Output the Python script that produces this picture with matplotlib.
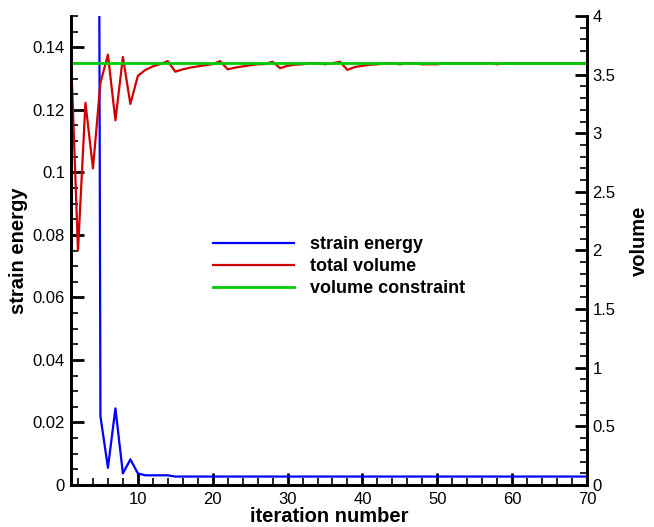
import numpy as np
import matplotlib
matplotlib.use("Agg")
import matplotlib.pyplot as plt
from matplotlib.ticker import MultipleLocator

plt.rcParams['font.family'] = ['Liberation Sans', 'DejaVu Sans']

# номера итераций
iterations = list(range(1, 71))

# энергия деформации (левая ось)
strain_energy = [2.5, 1.8, 1.2, 0.9, 0.022, 0.0055, 0.0245, 0.0037, 0.0082, 0.0037,
                 0.0031, 0.0031, 0.0031, 0.0031] + [0.0027] * 56

# общий объём (правая ось)
total_volume = [3.78, 2.00, 3.26, 2.70, 3.43, 3.67, 3.11, 3.65, 3.25, 3.49,
                3.54, 3.57, 3.59, 3.615, 3.525, 3.545, 3.56, 3.57, 3.58, 3.59,
                3.615, 3.545, 3.56, 3.57, 3.58, 3.588, 3.59, 3.61, 3.555, 3.575,
                3.585, 3.588, 3.598, 3.598, 3.588, 3.598, 3.61, 3.54, 3.565, 3.575,
                3.585, 3.588, 3.598, 3.598, 3.588, 3.598, 3.598, 3.588, 3.588, 3.588,
                3.598, 3.598, 3.598, 3.598, 3.598, 3.598, 3.598, 3.588, 3.598, 3.598,
                3.598, 3.598, 3.598, 3.598, 3.598, 3.598, 3.598, 3.598, 3.598, 3.598]

# ограничение по объёму
volume_limit = [3.6] * 70

fig = plt.figure(figsize=(6.54, 5.27), dpi=100)
ax = fig.add_axes([70.5 / 654, 1 - 485 / 527, (587 - 70.5) / 654, (485 - 16) / 527])
ax2 = ax.twinx()

l1, = ax.plot(iterations, strain_energy, color='#0000ff', lw=1.6)
l2, = ax2.plot(iterations, total_volume, color='#d00000', lw=1.6)
l3, = ax2.plot(iterations, volume_limit, color='#00cc00', lw=2.0)

ax.set_xlim(1, 70)
ax.set_ylim(0, 0.15)
ax2.set_ylim(0, 4)

ax.xaxis.set_major_locator(MultipleLocator(10))
ax.xaxis.set_minor_locator(MultipleLocator(2))
ax.yaxis.set_major_locator(MultipleLocator(0.02))
ax.yaxis.set_minor_locator(MultipleLocator(0.005))
ax2.yaxis.set_major_locator(MultipleLocator(0.5))
ax2.yaxis.set_minor_locator(MultipleLocator(0.1))
ax.set_yticks([0, 0.02, 0.04, 0.06, 0.08, 0.1, 0.12, 0.14])
ax.set_yticklabels(['0', '0.02', '0.04', '0.06', '0.08', '0.1', '0.12', '0.14'])
ax2.set_yticks([0, 0.5, 1, 1.5, 2, 2.5, 3, 3.5, 4])
ax2.set_yticklabels(['0', '0.5', '1', '1.5', '2', '2.5', '3', '3.5', '4'])

for a in (ax, ax2):
    a.spines['top'].set_visible(False)
    for s in a.spines.values():
        s.set_linewidth(2)
    a.tick_params(which='major', direction='in', length=9, width=2, labelsize=12, pad=4)
    a.tick_params(which='minor', direction='in', length=5, width=1.2)
ax.tick_params(axis='y', right=False)
ax.tick_params(axis='x', pad=5)

ax.set_xlabel('iteration number', fontsize=14.5, fontweight='bold', labelpad=0)
ax.set_ylabel('strain energy', fontsize=14.5, fontweight='bold')
ax.yaxis.set_label_coords(-0.083, 0.5)
ax2.set_ylabel('volume', fontsize=14.5, fontweight='bold')
ax2.yaxis.set_label_coords(1.083, 0.52)

fig.legend([l1, l2, l3], ['strain energy', 'total volume', 'volume constraint'],
           loc='upper left', bbox_to_anchor=(213 / 654, 1 - 236 / 527),
           frameon=False, borderpad=0, borderaxespad=0, handlelength=4.5,
           handletextpad=0.85, labelspacing=0.28,
           prop={'size': 13, 'weight': 'bold'})

fig.savefig('out.png', dpi=100)
